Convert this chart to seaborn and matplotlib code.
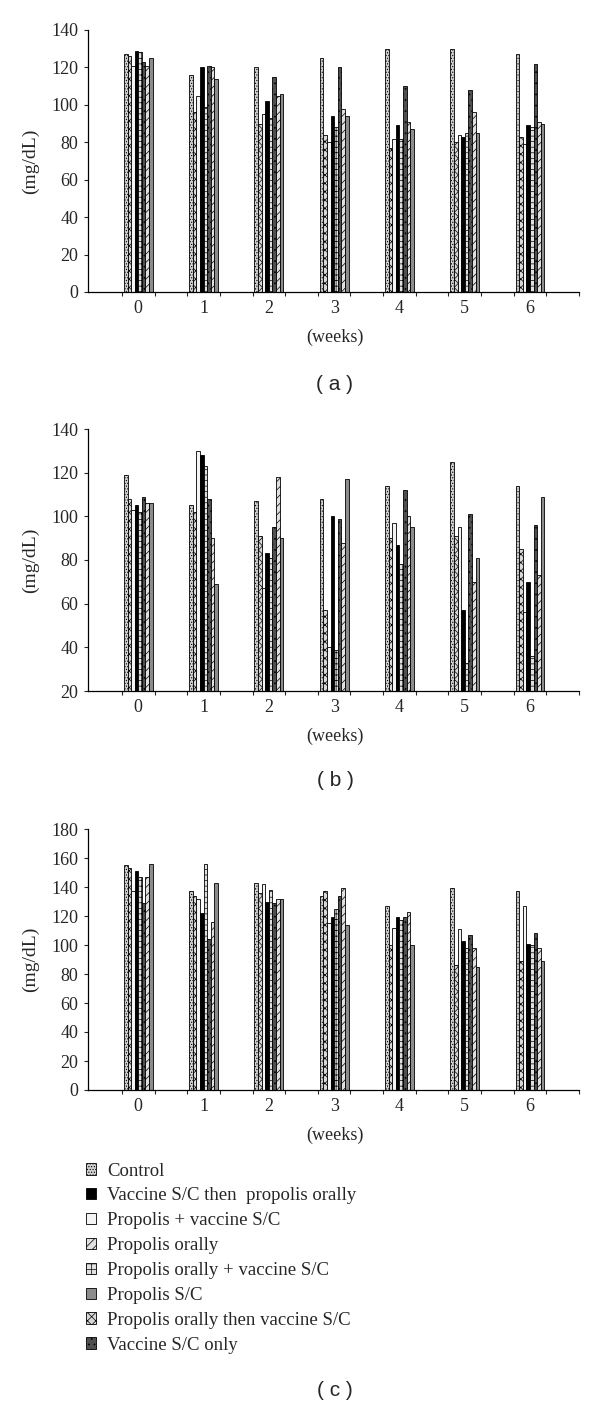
import numpy as np
import pandas as pd
import seaborn as sns
import matplotlib
matplotlib.use('Agg')
import matplotlib.pyplot as plt
from matplotlib.patches import Patch

weeks = ['0', '1', '2', '3', '4', '5', '6']

# groups in the order the bars stand inside each week
bar_order = ['Control',
             'Propolis orally then vaccine S/C',
             'Propolis + vaccine S/C',
             'Vaccine S/C then  propolis orally',
             'Propolis orally + vaccine S/C',
             'Vaccine S/C only',
             'Propolis orally',
             'Propolis S/C']

# groups in the order the legend lists them
legend_order = ['Control',
                'Vaccine S/C then  propolis orally',
                'Propolis + vaccine S/C',
                'Propolis orally',
                'Propolis orally + vaccine S/C',
                'Propolis S/C',
                'Propolis orally then vaccine S/C',
                'Vaccine S/C only']

# one row per group (bar_order), one column per week
panel_a = [[127, 116, 120, 125, 130, 130, 127],
           [126, 96, 90, 84, 77, 80, 83],
           [121, 105, 95, 80, 82, 84, 79],
           [129, 120, 102, 94, 89, 83, 89],
           [128, 99, 93, 88, 82, 85, 88],
           [123, 121, 115, 120, 110, 108, 122],
           [121, 120, 105, 98, 91, 96, 91],
           [125, 114, 106, 94, 87, 85, 90]]

panel_b = [[119, 105, 107, 108, 114, 125, 114],
           [108, 102, 91, 57, 90, 91, 85],
           [103, 130, 67, 40, 97, 95, 56],
           [105, 128, 83, 100, 87, 57, 70],
           [102, 123, 81, 39, 78, 33, 36],
           [109, 108, 95, 99, 112, 101, 96],
           [106, 90, 118, 88, 100, 70, 73],
           [106, 69, 90, 117, 95, 81, 109]]

panel_c = [[155, 137, 143, 134, 127, 139, 137],
           [153, 134, 136, 137, 100, 86, 89],
           [137, 132, 142, 115, 112, 111, 127],
           [151, 122, 130, 119, 119, 103, 101],
           [147, 156, 138, 125, 117, 98, 100],
           [129, 104, 129, 134, 119, 107, 108],
           [147, 116, 132, 139, 123, 98, 98],
           [156, 143, 132, 114, 100, 85, 89]]

styles = {
    'Control': ('#d0d0d0', '......'),
    'Vaccine S/C then  propolis orally': ('black', ''),
    'Propolis + vaccine S/C': ('#f4f4f4', ''),
    'Propolis orally': ('#e0e0e0', '////'),
    'Propolis orally + vaccine S/C': ('#e0e0e0', '+++'),
    'Propolis S/C': ('#8c8c8c', ''),
    'Propolis orally then vaccine S/C': ('#d8d8d8', 'xxxx'),
    'Vaccine S/C only': ('#505050', '...'),
}

sns.set_style('white')
plt.rcParams['font.family'] = ['Liberation Serif', 'DejaVu Serif']
plt.rcParams['hatch.linewidth'] = 0.5

W, H = 600, 1415
fig = plt.figure(figsize=(W / 100, H / 100), dpi=100)


def to_long(rows):
    recs = []
    for g, vals in zip(bar_order, rows):
        for w, v in zip(weeks, vals):
            recs.append({'week': w, 'group': g, 'value': v})
    return pd.DataFrame(recs)


def draw_panel(rows, top_px, bottom_px, ymin, ymax, caption, cap_px):
    ax = fig.add_axes([88 / W, 1 - bottom_px / H, 491 / W, (bottom_px - top_px) / H])
    df = to_long(rows)
    sns.barplot(data=df, x='week', y='value', hue='group', order=weeks,
                hue_order=bar_order, width=0.44, edgecolor='black',
                linewidth=0.6, palette=[styles[g][0] for g in bar_order],
                legend=False, ax=ax, err_kws={'linewidth': 0})
    for cont, g in zip(ax.containers, bar_order):
        for bar in cont:
            bar.set_hatch(styles[g][1])
            bar.set_facecolor(styles[g][0])
    ax.set_xlim(-0.77, 6.75)
    ax.set_ylim(ymin, ymax)
    ax.set_yticks(np.arange(ymin, ymax + 1, 20))
    ax.set_xlabel('')
    ax.set_ylabel('')
    sns.despine(ax=ax)
    for s in ['left', 'bottom']:
        ax.spines[s].set_linewidth(0.9)
        ax.spines[s].set_color('black')
    ax.tick_params(axis='y', direction='out', length=3, width=0.8, pad=4,
                   labelsize=13, left=True)
    ax.tick_params(axis='x', which='major', length=0, pad=6, labelsize=13)
    minor = [c + d for c in range(len(weeks)) for d in (-0.25, 0.25)] + [6.75]
    ax.set_xticks(minor, minor=True)
    ax.tick_params(axis='x', which='minor', direction='out', length=3, width=0.8,
                   bottom=True)
    mid = (top_px + bottom_px) / 2
    fig.text(30 / W, 1 - mid / H, '(mg/dL)', rotation=90, ha='center',
             va='center', fontsize=14)
    fig.text(335 / W, 1 - (bottom_px + 45) / H, '(weeks)', ha='center',
             va='center', fontsize=13)
    fig.text(335 / W, 1 - cap_px / H, caption, ha='center', va='center',
             fontsize=15, family=['Liberation Sans', 'DejaVu Sans'])
    return ax


draw_panel(panel_a, 30, 292, 0, 140, '( a )', 384)
draw_panel(panel_b, 429, 691, 20, 140, '( b )', 781)
draw_panel(panel_c, 829, 1090, 0, 180, '( c )', 1390)

handles = [Patch(facecolor=styles[g][0], hatch=styles[g][1], edgecolor='black',
                 linewidth=0.6) for g in legend_order]
fig.legend(handles, legend_order, loc='upper left',
           bbox_to_anchor=(78 / W, 1 - 1155 / H), frameon=False,
           fontsize=13.5, handlelength=0.55, handleheight=0.55,
           handletextpad=0.6, labelspacing=0.42, borderaxespad=0)

fig.savefig('out.png', dpi=100)
